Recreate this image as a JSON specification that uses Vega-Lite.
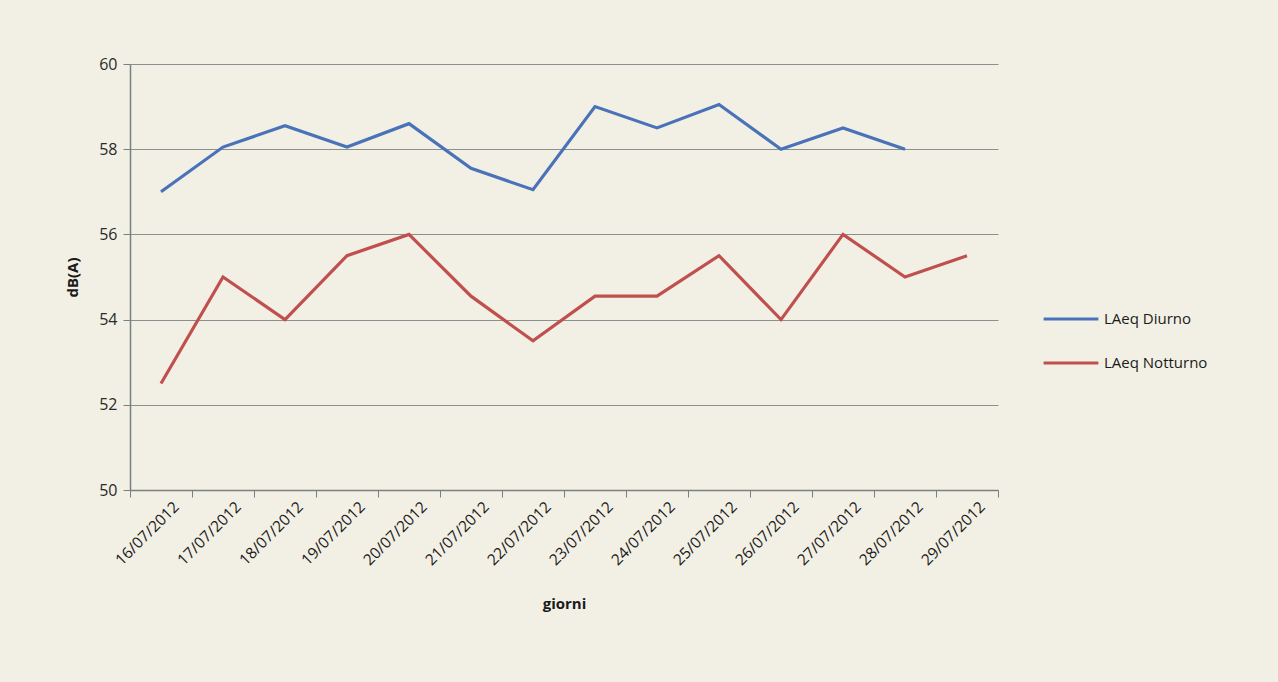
{
  "$schema": "https://vega.github.io/schema/vega-lite/v6.json",
  "width": 868,
  "height": 426,
  "autosize": "none",
  "padding": {"left": 130, "top": 64, "right": 280, "bottom": 192},
  "background": "#f2f0e5",
  "config": {
    "view": {"stroke": null},
    "font": "Open Sans",
    "axis": {"labelFont": "Open Sans", "titleFont": "Open Sans"}
  },
  "data": {
    "values": [
      {"giorno": "16/07/2012", "serie": "LAeq Diurno", "dB": 57.0},
      {"giorno": "17/07/2012", "serie": "LAeq Diurno", "dB": 58.05},
      {"giorno": "18/07/2012", "serie": "LAeq Diurno", "dB": 58.55},
      {"giorno": "19/07/2012", "serie": "LAeq Diurno", "dB": 58.05},
      {"giorno": "20/07/2012", "serie": "LAeq Diurno", "dB": 58.6},
      {"giorno": "21/07/2012", "serie": "LAeq Diurno", "dB": 57.55},
      {"giorno": "22/07/2012", "serie": "LAeq Diurno", "dB": 57.05},
      {"giorno": "23/07/2012", "serie": "LAeq Diurno", "dB": 59.0},
      {"giorno": "24/07/2012", "serie": "LAeq Diurno", "dB": 58.5},
      {"giorno": "25/07/2012", "serie": "LAeq Diurno", "dB": 59.05},
      {"giorno": "26/07/2012", "serie": "LAeq Diurno", "dB": 58.0},
      {"giorno": "27/07/2012", "serie": "LAeq Diurno", "dB": 58.5},
      {"giorno": "28/07/2012", "serie": "LAeq Diurno", "dB": 58.0},
      {"giorno": "16/07/2012", "serie": "LAeq  Notturno", "dB": 52.5},
      {"giorno": "17/07/2012", "serie": "LAeq  Notturno", "dB": 55.0},
      {"giorno": "18/07/2012", "serie": "LAeq  Notturno", "dB": 54.0},
      {"giorno": "19/07/2012", "serie": "LAeq  Notturno", "dB": 55.5},
      {"giorno": "20/07/2012", "serie": "LAeq  Notturno", "dB": 56.0},
      {"giorno": "21/07/2012", "serie": "LAeq  Notturno", "dB": 54.55},
      {"giorno": "22/07/2012", "serie": "LAeq  Notturno", "dB": 53.5},
      {"giorno": "23/07/2012", "serie": "LAeq  Notturno", "dB": 54.55},
      {"giorno": "24/07/2012", "serie": "LAeq  Notturno", "dB": 54.55},
      {"giorno": "25/07/2012", "serie": "LAeq  Notturno", "dB": 55.5},
      {"giorno": "26/07/2012", "serie": "LAeq  Notturno", "dB": 54.0},
      {"giorno": "27/07/2012", "serie": "LAeq  Notturno", "dB": 56.0},
      {"giorno": "28/07/2012", "serie": "LAeq  Notturno", "dB": 55.0},
      {"giorno": "29/07/2012", "serie": "LAeq  Notturno", "dB": 55.5}
    ]
  },
  "mark": {"type": "line", "strokeWidth": 3.2},
  "encoding": {
    "x": {
      "field": "giorno",
      "type": "ordinal",
      "sort": null,
      "scale": {"paddingInner": 0, "paddingOuter": 0},
      "axis": {
        "title": "giorni",
        "titleFontWeight": "bold",
        "titleFontSize": 15,
        "titleColor": "#1a1a1a",
        "titlePadding": 28,
        "labelAngle": -45,
        "labelFontSize": 15.5,
        "labelColor": "#1a1a1a",
        "labelPadding": 2,
        "labelOffset": 10,
        "tickBand": "extent",
        "tickSize": 7,
        "tickColor": "#7a7f80",
        "domainColor": "#7a7f80",
        "domainWidth": 1.5,
        "grid": false
      }
    },
    "y": {
      "field": "dB",
      "type": "quantitative",
      "scale": {"domain": [50, 60], "nice": false, "zero": false},
      "axis": {
        "title": "dB(A)",
        "titleFontWeight": "bold",
        "titleFontSize": 15,
        "titleColor": "#1a1a1a",
        "titlePadding": 18,
        "values": [50, 52, 54, 56, 58, 60],
        "labelFontSize": 16,
        "labelColor": "#2a2a2a",
        "labelPadding": 6,
        "tickSize": 7,
        "tickColor": "#7a7f80",
        "domainColor": "#7a7f80",
        "domainWidth": 1.5,
        "grid": true,
        "gridColor": "#8a9090",
        "gridWidth": 1.2
      }
    },
    "color": {
      "field": "serie",
      "type": "nominal",
      "sort": ["LAeq Diurno", "LAeq  Notturno"],
      "scale": {"domain": ["LAeq Diurno", "LAeq  Notturno"], "range": ["#4a72b8", "#c0504d"]},
      "legend": {
        "title": null,
        "orient": "none",
        "legendX": 912,
        "legendY": 226,
        "symbolType": "stroke",
        "symbolSize": 3000,
        "symbolStrokeWidth": 3,
        "labelFontSize": 15,
        "labelColor": "#1a1a1a",
        "labelOffset": 4,
        "rowPadding": 7
      }
    }
  }
}
